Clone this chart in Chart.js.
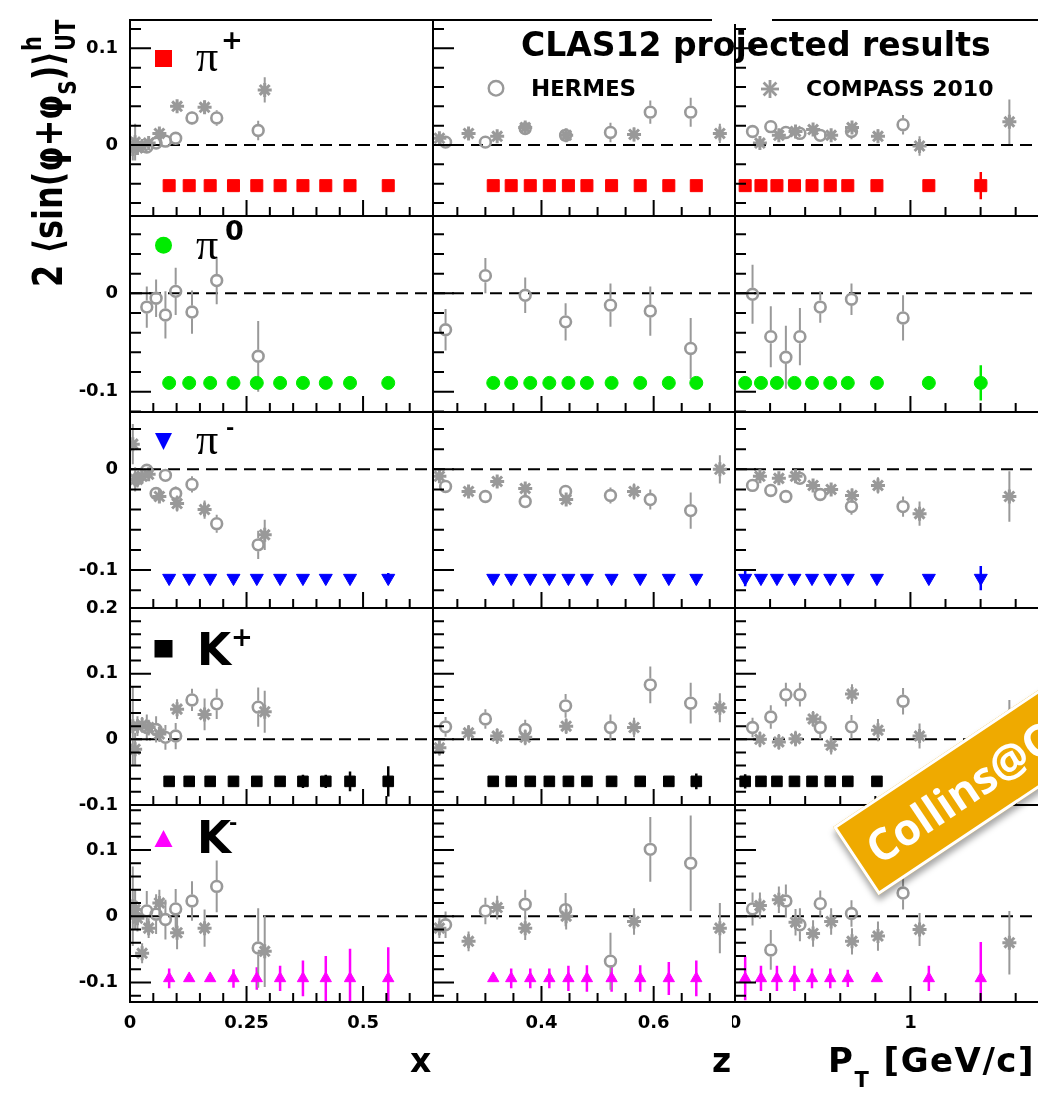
<!DOCTYPE html>
<html>
<head>
<meta charset="utf-8">
<script src="https://cdn.jsdelivr.net/npm/chart.js@4.4.1/dist/chart.umd.min.js"></script>
<style>
  html, body { margin: 0; padding: 0; background: #fff; }
  #page { position: relative; width: 1038px; height: 1095px; overflow: hidden;
          font-family: "DejaVu Sans", sans-serif; font-weight: bold; color: #000; }
  #plots canvas { position: absolute; }
  #marks { position: absolute; left: 0; top: 0; }
  .txt { position: absolute; white-space: nowrap; line-height: 1; }
  .pi { font-family: "Liberation Serif", serif; font-weight: normal; font-size: 44px; }
  .kk { font-size: 44px; }
  #ytitle { left: -99px; top: 127px; width: 280px; height: 40px; line-height: 40px; font-size: 32px;
            transform: rotate(-90deg) scaleY(1.25); transform-origin: center; }
  #ytitle .sS { font-size: 20px; vertical-align: -11px; }
  #ytitle .ss { display: inline-block; font-size: 21px; line-height: 27px; vertical-align: -10px; }
  #ytitle .ss span { display: block; }
  #gap { position: absolute; left: 712px; top: 15px; width: 60px; height: 9px; background: #fff; }
  #badge { position: absolute; left: 833px; top: 827px; width: 380px; height: 82px; box-sizing: border-box;
           transform-origin: 0 0; transform: rotate(-33.7deg); background: #EFAA00; border: 3px solid #fff;
           box-shadow: -3px 5px 6px rgba(0,0,0,0.35); color: #fff; font-family: "Open Sans", sans-serif;
           font-weight: bold; font-size: 44px; line-height: 76px; padding-left: 14px; }
</style>
</head>
<body>
<div id="page">
  <div id="plots"></div>

  <svg id="marks" width="1038" height="1095">
    <rect x="155" y="50" width="17" height="17" fill="#ff0000"/>
    <circle cx="163.5" cy="245.3" r="8.5" fill="rgb(0,235,0)"/>
    <polygon points="155,433 172,433 163.5,450" fill="#0000ff"/>
    <rect x="154.5" y="640" width="18" height="17.5" fill="#000"/>
    <polygon points="163.5,830 154.5,847 172.5,847" fill="#ff00ff"/>
    <circle cx="496" cy="88.3" r="7.3" fill="none" stroke="#999" stroke-width="2.4"/>
    <g stroke="#999" stroke-width="2.8">
      <line x1="770" y1="80" x2="770" y2="98"/>
      <line x1="761" y1="89" x2="779" y2="89"/>
      <line x1="763.6" y1="82.6" x2="776.4" y2="95.4"/>
      <line x1="763.6" y1="95.4" x2="776.4" y2="82.6"/>
    </g>
  </svg>

  <div class="txt" id="ytitle">2 ⟨sin(φ+φ<span class="sS">S</span>)⟩<span class="ss"><span>h</span><span>UT</span></span></div>

  <div class="txt pi" style="left:196px; top:35px;">π</div>
  <div class="txt" style="left:221px; top:27px; font-size:26px;">+</div>
  <div class="txt pi" style="left:196px; top:223px;">π</div>
  <div class="txt" style="left:225px; top:217px; font-size:27px;">0</div>
  <div class="txt pi" style="left:196px; top:418px;">π</div>
  <div class="txt" style="left:226px; top:417px; font-size:20px;">-</div>
  <div class="txt kk" style="left:197px; top:628px;">K</div>
  <div class="txt" style="left:231px; top:624px; font-size:26px;">+</div>
  <div class="txt kk" style="left:197px; top:816px;">K</div>
  <div class="txt" style="left:229px; top:812px; font-size:20px;">-</div>

  <div class="txt" style="left:521px; top:28px; font-size:33px;">CLAS12 projected results</div>
  <div class="txt" style="left:531px; top:77px; font-size:23px;">H<span style="font-size:21px">E</span>RM<span style="font-size:21px">E</span>S</div>
  <div class="txt" style="left:806px; top:78px; font-size:22px;">COMPASS 2010</div>

  <div class="txt" style="left:410px; top:1044px; font-size:33px;">x</div>
  <div class="txt" style="left:712px; top:1044px; font-size:33px;">z</div>
  <div class="txt" style="left:828px; top:1043px; font-size:34px; letter-spacing:1.5px;">P<span style="font-size:21px; vertical-align:-15px;">T</span> [GeV/c]</div>

  <div id="gap"></div>
  <div id="badge">Collins@CLAS12</div>
</div>

<script>
// bin centres (x, z, P_T)
const HERMES_X = [0.036, 0.056, 0.076, 0.098, 0.133, 0.186, 0.275];
const COMPASS_X = [0.006, 0.011, 0.016, 0.026, 0.040, 0.063, 0.101, 0.160, 0.289];
const CLAS_X = [0.084, 0.127, 0.172, 0.222, 0.272, 0.322, 0.371, 0.420, 0.472, 0.554];
const HERMES_Z = [0.229, 0.300, 0.371, 0.443, 0.523, 0.594, 0.666];
const COMPASS_Z = [0.218, 0.270, 0.321, 0.371, 0.444, 0.565, 0.718];
const CLAS_Z = [0.314, 0.346, 0.380, 0.414, 0.448, 0.481, 0.525, 0.576, 0.627, 0.676];
const HERMES_PT = [0.100, 0.204, 0.290, 0.370, 0.486, 0.664, 0.958];
const COMPASS_PT = [0.142, 0.250, 0.345, 0.445, 0.548, 0.667, 0.815, 1.052, 1.564];
const CLAS_PT = [0.058, 0.148, 0.239, 0.339, 0.439, 0.543, 0.643, 0.809, 1.105, 1.401];

// asymmetries as [value, error]
const PIP_X_HERMES = [[-0.002,0.006],[0.002,0.006],[0.004,0.006],[0.007,0.006],[0.028,0.007],[0.028,0.008],[0.015,0.010]];
const PIP_X_COMPASS = [[-0.004,0.012],[0.003,0.019],[-0.003,0.007],[-0.001,0.005],[0.002,0.005],[0.012,0.005],[0.040,0.006],[0.039,0.007],[0.057,0.013]];
const PIP_Z_HERMES = [[0.003,0.005],[0.003,0.005],[0.017,0.006],[0.010,0.006],[0.013,0.010],[0.034,0.012],[0.034,0.015]];
const PIP_Z_COMPASS = [[0.007,0.004],[0.012,0.004],[0.009,0.005],[0.018,0.005],[0.010,0.005],[0.011,0.007],[0.012,0.010]];
const PIP_PT_HERMES = [[0.014,0.006],[0.019,0.006],[0.013,0.006],[0.012,0.006],[0.010,0.006],[0.014,0.008],[0.021,0.010]];
const PIP_PT_COMPASS = [[0.002,0.006],[0.010,0.005],[0.014,0.005],[0.016,0.005],[0.010,0.005],[0.018,0.006],[0.009,0.007],[-0.001,0.010],[0.024,0.023]];

const PI0_X_HERMES = [[-0.014,0.021],[-0.005,0.019],[-0.022,0.024],[0.002,0.024],[-0.019,0.022],[0.013,0.024],[-0.064,0.036]];
const PI0_Z_HERMES = [[-0.037,0.021],[0.018,0.018],[-0.002,0.018],[-0.029,0.019],[-0.012,0.022],[-0.018,0.025],[-0.056,0.031]];
const PI0_PT_HERMES = [[-0.001,0.030],[-0.044,0.031],[-0.065,0.032],[-0.044,0.029],[-0.014,0.016],[-0.006,0.016],[-0.025,0.023]];

const PIM_X_HERMES = [[-0.001,0.006],[-0.024,0.006],[-0.006,0.006],[-0.024,0.007],[-0.015,0.008],[-0.054,0.009],[-0.075,0.014]];
const PIM_X_COMPASS = [[0.025,0.020],[-0.010,0.012],[-0.010,0.008],[-0.007,0.006],[-0.005,0.006],[-0.027,0.006],[-0.034,0.008],[-0.040,0.009],[-0.065,0.015]];
const PIM_Z_HERMES = [[-0.017,0.006],[-0.027,0.006],[-0.032,0.006],[-0.022,0.006],[-0.026,0.008],[-0.030,0.010],[-0.041,0.018]];
const PIM_Z_COMPASS = [[-0.007,0.005],[-0.022,0.005],[-0.012,0.006],[-0.019,0.006],[-0.030,0.006],[-0.022,0.008],[0.000,0.014]];
const PIM_PT_HERMES = [[-0.016,0.006],[-0.021,0.006],[-0.027,0.006],[-0.009,0.006],[-0.025,0.006],[-0.037,0.008],[-0.037,0.010]];
const PIM_PT_COMPASS = [[-0.007,0.005],[-0.009,0.005],[-0.007,0.005],[-0.016,0.005],[-0.020,0.006],[-0.026,0.007],[-0.016,0.008],[-0.044,0.012],[-0.027,0.025]];

const KP_X_HERMES = [[0.018,0.020],[0.015,0.020],[0.003,0.019],[0.005,0.020],[0.060,0.017],[0.054,0.023],[0.049,0.030]];
const KP_X_COMPASS = [[0.020,0.060],[-0.015,0.025],[0.020,0.015],[0.022,0.012],[0.018,0.012],[0.008,0.012],[0.046,0.015],[0.038,0.024],[0.042,0.032]];
const KP_Z_HERMES = [[0.019,0.015],[0.031,0.015],[0.015,0.015],[0.051,0.018],[0.018,0.020],[0.083,0.028],[0.055,0.031]];
const KP_Z_COMPASS = [[-0.013,0.012],[0.010,0.012],[0.005,0.012],[0.003,0.012],[0.020,0.012],[0.018,0.015],[0.048,0.022]];
const KP_PT_HERMES = [[0.018,0.015],[0.034,0.018],[0.068,0.018],[0.068,0.018],[0.018,0.018],[0.019,0.018],[0.058,0.020]];
const KP_PT_COMPASS = [[0.000,0.012],[-0.004,0.012],[0.001,0.012],[0.031,0.012],[-0.009,0.014],[0.069,0.015],[0.014,0.017],[0.005,0.019],[0.020,0.040]];

const KM_X_HERMES = [[0.008,0.030],[0.003,0.030],[-0.005,0.030],[0.011,0.030],[0.023,0.030],[0.045,0.039],[-0.048,0.060]];
const KM_X_COMPASS = [[0.015,0.060],[0.010,0.030],[-0.003,0.020],[-0.056,0.015],[-0.018,0.015],[0.020,0.020],[-0.025,0.025],[-0.018,0.028],[-0.053,0.054]];
const KM_Z_HERMES = [[-0.013,0.020],[0.008,0.020],[0.018,0.022],[0.010,0.025],[-0.068,0.043],[0.101,0.049],[0.080,0.072]];
const KM_Z_COMPASS = [[-0.018,0.015],[-0.038,0.015],[0.013,0.018],[-0.018,0.018],[0.000,0.020],[-0.008,0.020],[-0.018,0.038]];
const KM_PT_HERMES = [[0.011,0.025],[-0.051,0.030],[0.023,0.025],[-0.013,0.025],[0.019,0.020],[0.004,0.020],[0.035,0.025]];
const KM_PT_COMPASS = [[0.016,0.020],[0.025,0.020],[-0.009,0.020],[-0.026,0.020],[-0.008,0.020],[-0.038,0.020],[-0.030,0.022],[-0.020,0.025],[-0.040,0.048]];

// CLAS12 projections: plotted offset per hadron and projected errors
const CLAS_PROJ = [-0.042, -0.091, -0.108, -0.064, -0.094];
const PIP_CLAS_ERR = [[0,0,0,0,0,0,0,0,0,0], [0,0,0,0,0,0,0,0,0,0], [0,0,0,0,0,0,0,0,0,0.014]];
const PI0_CLAS_ERR = [[0,0,0,0,0,0,0,0,0,0], [0,0,0,0,0,0,0,0,0,0], [0,0,0,0,0,0,0,0,0.007,0.018]];
const PIM_CLAS_ERR = [[0,0,0,0,0,0,0,0,0,0.005], [0,0,0,0,0,0,0,0,0,0], [0.008,0,0,0,0,0,0,0,0,0.012]];
const KP_CLAS_ERR = [[0,0,0,0,0,0,0.010,0.010,0.015,0.023], [0,0,0,0,0,0,0,0,0,0.012], [0.011,0,0,0,0,0,0,0,0,0]];
const KM_CLAS_ERR = [[0.015,0.003,0.003,0.014,0.017,0.019,0.027,0.034,0.045,0.047],
                     [0.005,0.015,0.015,0.015,0.019,0.020,0.020,0.020,0.025,0.027],
                     [0.033,0.019,0.019,0.019,0.015,0.015,0.013,0.003,0.019,0.055]];

// tick labels
const Y_LABELS = [[0, 0.1], [-0.1, 0], [-0.1, 0], [-0.1, 0, 0.1, 0.2], [-0.1, 0, 0.1]];
const X_LABELS = [[0, 0.25, 0.5], [0.4, 0.6], [0, 1]];

// axis ranges
const Y_RANGES = [[-0.0734, 0.1293], [-0.1206, 0.0786], [-0.1377, 0.0569], [-0.1, 0.2], [-0.1296, 0.168]];
const X_RANGES = [[0, 0.65], [0.2066, 0.745], [0, 1.75]];

// layout of the 5x3 grid
const ROW_EDGES = [20, 216, 412, 608, 805, 1002];
const COL_EDGES = [130, 433, 735, 1042];
const X_TICKS = [[0.05, 0.25], [0.05, 0.2], [0.2, 1]];
const GREY = '#999';

const rows = [
  { hermes: [PIP_X_HERMES, PIP_Z_HERMES, PIP_PT_HERMES], compass: [PIP_X_COMPASS, PIP_Z_COMPASS, PIP_PT_COMPASS],
    clasErr: PIP_CLAS_ERR, color: '#ff0000', style: 'rect', radius: 8.5, rot: 0 },
  { hermes: [PI0_X_HERMES, PI0_Z_HERMES, PI0_PT_HERMES], compass: null,
    clasErr: PI0_CLAS_ERR, color: 'rgb(0,235,0)', style: 'circle', radius: 6.5, rot: 0 },
  { hermes: [PIM_X_HERMES, PIM_Z_HERMES, PIM_PT_HERMES], compass: [PIM_X_COMPASS, PIM_Z_COMPASS, PIM_PT_COMPASS],
    clasErr: PIM_CLAS_ERR, color: '#0000ff', style: 'triangle', radius: 7.5, rot: 180 },
  { hermes: [KP_X_HERMES, KP_Z_HERMES, KP_PT_HERMES], compass: [KP_X_COMPASS, KP_Z_COMPASS, KP_PT_COMPASS],
    clasErr: KP_CLAS_ERR, color: '#000000', style: 'rect', radius: 7.5, rot: 0 },
  { hermes: [KM_X_HERMES, KM_Z_HERMES, KM_PT_HERMES], compass: [KM_X_COMPASS, KM_Z_COMPASS, KM_PT_COMPASS],
    clasErr: KM_CLAS_ERR, color: '#ff00ff', style: 'triangle', radius: 6.5, rot: 0 }
];
const hermesBins = [HERMES_X, HERMES_Z, HERMES_PT];
const compassBins = [COMPASS_X, COMPASS_Z, COMPASS_PT];
const clasBins = [CLAS_X, CLAS_Z, CLAS_PT];

const isMultiple = (v, s) => Math.abs(v / s - Math.round(v / s)) < 1e-6;

// zero line, error bars, frame, inward ticks and tick labels
const panelDecor = {
  id: 'panelDecor',
  beforeDatasetsDraw(chart, args, o) {
    const { ctx, chartArea: a, scales: { x, y } } = chart;
    ctx.save();
    ctx.beginPath();
    ctx.rect(a.left, a.top, a.width, a.height);
    ctx.clip();
    const y0 = y.getPixelForValue(0);
    ctx.strokeStyle = '#000';
    ctx.lineWidth = 2;
    ctx.setLineDash([12, 7]);
    ctx.beginPath();
    ctx.moveTo(a.left, y0);
    ctx.lineTo(a.right, y0);
    ctx.stroke();
    ctx.setLineDash([]);
    chart.data.datasets.forEach(ds => {
      ctx.strokeStyle = ds.errorColor;
      ctx.lineWidth = ds.errorWidth;
      ds.data.forEach((p, i) => {
        const e = ds.errors[i];
        if (!e) return;
        const px = x.getPixelForValue(p.x), py = y.getPixelForValue(p.y);
        const top = y.getPixelForValue(p.y + e), bot = y.getPixelForValue(p.y - e);
        const g = ds.errorGap;
        ctx.beginPath();
        if (top < py - g) { ctx.moveTo(px, top); ctx.lineTo(px, py - g); }
        if (bot > py + g) { ctx.moveTo(px, py + g); ctx.lineTo(px, bot); }
        ctx.stroke();
      });
    });
    ctx.restore();
  },
  afterDraw(chart, args, o) {
    const { ctx, chartArea: a, scales: { x, y } } = chart;
    ctx.save();
    ctx.strokeStyle = '#000';
    ctx.lineWidth = 2;
    ctx.strokeRect(a.left, a.top, a.width, a.height);
    ctx.beginPath();
    for (let k = Math.ceil(y.min / 0.02 - 1e-6); k * 0.02 <= y.max + 1e-9; k++) {
      const v = k * 0.02, py = y.getPixelForValue(v);
      ctx.moveTo(a.left, py);
      ctx.lineTo(a.left + (isMultiple(v, 0.1) ? 21 : 11), py);
    }
    for (let k = Math.ceil(x.min / o.xStep - 1e-6); k * o.xStep <= x.max + 1e-9; k++) {
      const v = k * o.xStep, px = x.getPixelForValue(v);
      ctx.moveTo(px, a.bottom);
      ctx.lineTo(px, a.bottom - (isMultiple(v, o.xMajor) ? 16 : 9));
    }
    ctx.stroke();
    ctx.fillStyle = '#000';
    ctx.font = 'bold 18px "DejaVu Sans"';
    if (o.yLabels) {
      ctx.textAlign = 'right';
      ctx.textBaseline = 'middle';
      o.yLabels.forEach(v => ctx.fillText(String(v), a.left - 12, y.getPixelForValue(v)));
    }
    if (o.xLabels) {
      ctx.textAlign = 'center';
      ctx.textBaseline = 'middle';
      o.xLabels.forEach(v => ctx.fillText(String(v), x.getPixelForValue(v), a.bottom + 21));
    }
    ctx.restore();
  }
};

const plots = document.getElementById('plots');

rows.forEach((row, r) => {
  for (let c = 0; c < 3; c++) {
    const padL = c === 0 ? 80 : 3, pad = 3;
    const padT = c === 0 ? 12 : 3;
    const padB = r === 4 ? 45 : (c === 0 ? 12 : 3);
    const left = COL_EDGES[c] - padL, top = ROW_EDGES[r] - padT;
    const w = COL_EDGES[c + 1] - COL_EDGES[c] + padL + pad;
    const h = ROW_EDGES[r + 1] - ROW_EDGES[r] + padT + padB;
    const canvas = document.createElement('canvas');
    canvas.width = w;
    canvas.height = h;
    canvas.style.left = left + 'px';
    canvas.style.top = top + 'px';
    canvas.style.width = w + 'px';
    canvas.style.height = h + 'px';
    plots.appendChild(canvas);

    const datasets = [{
      label: 'CLAS12',
      data: clasBins[c].map(v => ({ x: v, y: CLAS_PROJ[r] })),
      errors: row.clasErr[c], errorColor: row.color, errorWidth: 2.5, errorGap: 0,
      pointStyle: row.style, pointRotation: row.rot, pointRadius: row.radius,
      pointBackgroundColor: row.color, pointBorderColor: row.color, pointBorderWidth: 1
    }];
    if (row.compass) {
      datasets.push({
        label: 'COMPASS 2010',
        data: compassBins[c].map((v, i) => ({ x: v, y: row.compass[c][i][0] })),
        errors: row.compass[c].map(p => p[1]), errorColor: GREY, errorWidth: 2, errorGap: 0,
        pointStyle: 'star', pointRadius: 7, pointBorderColor: GREY, pointBorderWidth: 3
      });
    }
    datasets.push({
      label: 'HERMES',
      data: hermesBins[c].map((v, i) => ({ x: v, y: row.hermes[c][i][0] })),
      errors: row.hermes[c].map(p => p[1]), errorColor: GREY, errorWidth: 2, errorGap: 6.5,
      pointStyle: 'circle', pointRadius: 5.4, pointBorderColor: GREY, pointBorderWidth: 2.6,
      pointBackgroundColor: 'rgba(255,255,255,0)'
    });

    new Chart(canvas, {
      type: 'scatter',
      data: { datasets },
      options: {
        responsive: false,
        animation: false,
        events: [],
        layout: { autoPadding: false, padding: { left: padL, right: pad, top: padT, bottom: padB } },
        scales: {
          x: { type: 'linear', display: false, min: X_RANGES[c][0], max: X_RANGES[c][1] },
          y: { type: 'linear', display: false, min: Y_RANGES[r][0], max: Y_RANGES[r][1] }
        },
        plugins: {
          legend: { display: false },
          tooltip: { enabled: false },
          panelDecor: {
            xStep: X_TICKS[c][0], xMajor: X_TICKS[c][1],
            yLabels: c === 0 ? Y_LABELS[r] : null,
            xLabels: r === 4 ? X_LABELS[c] : null
          }
        }
      },
      plugins: [panelDecor]
    });
  }
});
</script>
</body>
</html>
